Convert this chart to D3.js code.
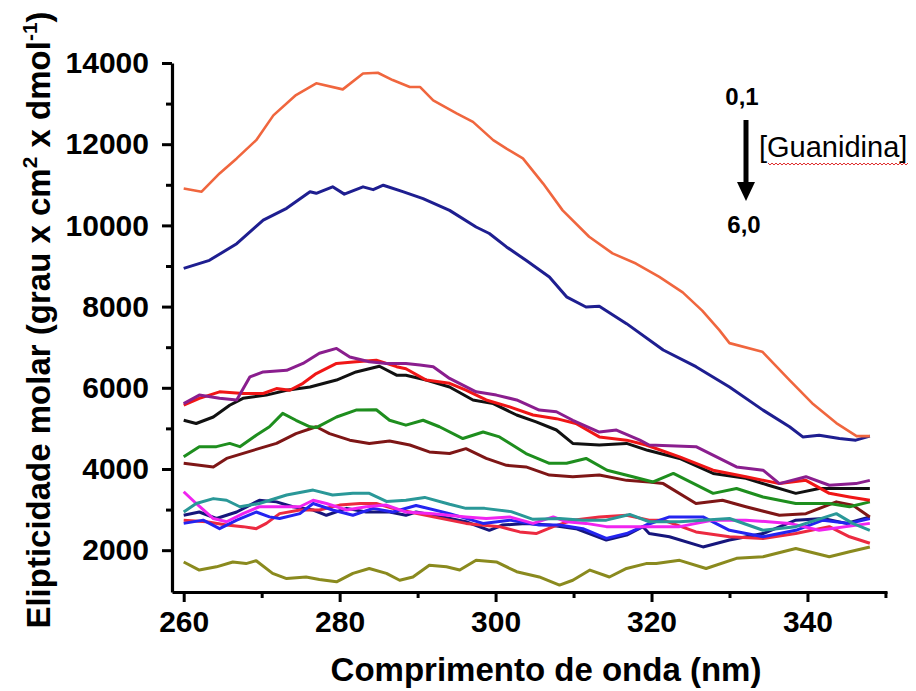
<!DOCTYPE html>
<html>
<head>
<meta charset="utf-8">
<script src="https://cdn.jsdelivr.net/npm/d3@7/dist/d3.min.js"></script>
<style>
  html, body { margin: 0; padding: 0; background: #fff; }
  svg { display: block; }
  text { font-family: "Liberation Sans", Arial, sans-serif; }
</style>
</head>
<body>
<svg id="chart" width="916" height="691"></svg>
<script>
// ---- data (wavelength nm, molar ellipticity) ----
const orange = [[260,10910],[262.3,10830],[264.6,11280],[266.8,11650],[269.3,12100],[271.5,12710],[274.4,13210],[277,13500],[280.4,13350],[283,13740],[284.9,13760],[286.8,13580],[289,13410],[290.3,13410],[292,13080],[295,12760],[297.1,12550],[299.7,12100],[301.4,11890],[303.5,11650],[306.1,11030],[308.6,10370],[312,9720],[315,9310],[318,9060],[321,8730],[324,8350],[326.5,7900],[328.7,7420],[330,7100],[334.2,6890],[337.7,6190],[340.6,5620],[343.7,5130],[346.3,4810],[348,4810]];
const navy = [[260,8940],[263.3,9140],[266.8,9550],[270.2,10130],[273.2,10420],[276.2,10830],[277,10790],[279.1,10950],[280.6,10770],[283,10950],[284.3,10880],[285.6,10990],[288.1,10830],[290.7,10660],[294.1,10370],[297.5,9960],[299.2,9800],[301.4,9470],[303.9,9140],[306.9,8730],[309.1,8240],[311.6,7990],[313.3,8010],[316.8,7580],[321.5,6930],[325.7,6520],[330,6020],[334.3,5450],[337.7,5040],[339.4,4790],[341.5,4830],[344.1,4750],[346.2,4710],[348,4810]];
const purple = [[260,5610],[262,5820],[264.6,5740],[266.8,5700],[268.5,6270],[270.2,6390],[273.2,6430],[275.3,6600],[277.4,6850],[279.6,6970],[281.3,6760],[283.8,6640],[286,6600],[288.5,6600],[290.3,6560],[292,6520],[294.1,6230],[297.5,5900],[300.1,5820],[302.7,5700],[305.6,5450],[307.8,5410],[309.9,5200],[313.3,4910],[315.5,4960],[318.5,4710],[319.7,4590],[325.7,4550],[330.9,4050],[334.3,3970],[336.4,3640],[339.8,3810],[342.8,3600],[346.2,3640],[348,3720]];
const red = [[260,5570],[262,5740],[264.6,5900],[267.6,5860],[270.2,5860],[271.9,5980],[273.6,5940],[275.3,6110],[277,6350],[279.6,6600],[282.1,6640],[284.7,6680],[287.3,6520],[288.5,6470],[291.1,6190],[294.1,6110],[296.2,5940],[298.8,5700],[301.8,5530],[304.8,5330],[307.8,5240],[310.3,5120],[313.3,4790],[316.8,4710],[319.3,4590],[323.6,4300],[327.9,3970],[332.1,3810],[336.4,3640],[339.8,3720],[342.8,3400],[345.4,3310],[348,3230]];
const black = [[260,5200],[261.6,5120],[263.8,5280],[265.9,5570],[267.6,5740],[270.6,5820],[273.2,5940],[276.2,6020],[279.6,6190],[282.1,6390],[285.1,6530],[287.3,6310],[288.5,6310],[291.1,6190],[294.1,6020],[297.1,5700],[299.7,5610],[302.7,5330],[305.2,5160],[307.8,4960],[309.9,4630],[313.3,4590],[316.8,4630],[319.5,4460],[323.6,4260],[327.9,3890],[332.1,3770],[335,3600],[338.5,3400],[341.5,3520],[348,3520]];
const green = [[260,4300],[262,4550],[264.2,4550],[265.9,4630],[267.2,4550],[269.3,4830],[271,5040],[272.7,5370],[274.4,5200],[276.2,5040],[277,5020],[279.6,5280],[282.1,5450],[284.7,5460],[286.4,5200],[288.5,5080],[290.7,5200],[292.8,5040],[295.8,4750],[298.4,4910],[300.5,4790],[303.9,4380],[306.9,4140],[309.1,4140],[311.6,4260],[314.3,3970],[317.6,3810],[320.2,3680],[322.8,3890],[327.9,3400],[330.9,3520],[334.3,3310],[338.5,3150],[342.8,3150],[345.4,3070],[348,3190]];
const maroon = [[260,4140],[263.8,4050],[265.5,4260],[268.9,4460],[271.9,4630],[274.4,4870],[277,5040],[278.7,4870],[281.3,4710],[283.8,4630],[286.4,4690],[289,4590],[291.5,4420],[294.1,4380],[296.2,4500],[298.8,4260],[301.4,4090],[303.9,4050],[306.9,3850],[309.9,3810],[313.3,3850],[316.8,3720],[319.7,3680],[321.5,3640],[325.7,3150],[329.1,3230],[332.1,3070],[336.4,2860],[339.8,2900],[343.7,3190],[345.8,3110],[348,2820]];
const teal = [[260,2940],[261.6,3150],[263.8,3270],[265.5,3230],[267.2,3070],[269.7,3150],[273.2,3360],[276.6,3480],[279.1,3360],[281.7,3400],[283.8,3400],[286,3200],[288.5,3230],[290.9,3300],[294.1,3130],[296.2,3030],[298.6,3030],[302,2950],[304.8,2760],[308.2,2780],[311.2,2740],[314.2,2740],[317.2,2880],[319.7,2700],[323.6,2700],[330,2780],[334.3,2490],[338.5,2580],[343.7,2900],[345.8,2660],[348,2490]];
const magenta = [[260,3440],[261.6,3150],[263.8,2780],[265.5,2700],[267.6,2900],[269.7,3070],[272.3,3070],[274.9,3070],[276.6,3230],[278.3,3150],[280.9,2990],[283.4,3070],[286,3110],[288.5,2940],[292,2900],[296.2,2820],[298.8,2780],[301.8,2820],[304.8,2660],[307.4,2820],[309.1,2700],[311.6,2660],[314.2,2580],[317.6,2580],[323.6,2580],[327.9,2740],[332.1,2740],[337.7,2660],[341.5,2490],[348,2660]];
const blue = [[260,2660],[262.5,2740],[264.6,2530],[266.8,2740],[269.3,2940],[271,2820],[272.3,2780],[274.9,2900],[276.6,3150],[279.1,2990],[281.7,2860],[284.3,3030],[286.8,2940],[289.8,3100],[294.1,2900],[298.4,2660],[301.8,2740],[305.6,2620],[308.2,2620],[311.2,2530],[314.2,2290],[316.8,2410],[319.3,2620],[322.3,2820],[326.6,2820],[330,2490],[334.3,2330],[338.5,2490],[342,2740],[345.4,2660],[348,2780]];
const crimson = [[260,2740],[262.9,2700],[265.5,2620],[267.6,2580],[269.3,2530],[270.6,2660],[272.3,2900],[274.9,2990],[277.4,2990],[280,3110],[282.6,3150],[284.7,3150],[286.8,3030],[289,2940],[292,2820],[296.2,2660],[300.5,2580],[303.1,2450],[305.2,2410],[307.4,2580],[309.9,2740],[313.3,2820],[316.8,2860],[319.7,2740],[321.5,2740],[325.7,2450],[330,2330],[334.3,2290],[338.5,2410],[342.8,2580],[345.4,2330],[348,2170]];
const darknavy = [[260,2860],[262,2940],[264.2,2780],[266.8,2940],[269.7,3230],[271.9,3190],[274,3070],[276.6,2990],[278.3,2860],[280.9,3030],[283.4,2940],[286.4,2940],[288.5,2860],[289.8,2940],[293.2,2820],[296.2,2700],[299.2,2490],[300.9,2620],[303.9,2660],[306.9,2620],[310.3,2530],[314.2,2250],[316.8,2370],[318.9,2580],[319.7,2410],[322.3,2330],[326.6,2080],[330,2250],[334.3,2410],[338.5,2740],[342,2780],[345,2660],[348,2820]];
const olive = [[260,1710],[262,1510],[264.2,1590],[266.3,1710],[268,1670],[269.3,1740],[271.4,1430],[273.2,1300],[275.7,1340],[277.4,1280],[279.6,1220],[281.7,1430],[283.8,1550],[286,1430],[287.7,1260],[289.4,1340],[291.5,1630],[293.7,1590],[295.4,1510],[297.5,1750],[300.1,1710],[302.7,1470],[305.6,1340],[308.2,1140],[309.9,1260],[312.1,1510],[314.6,1340],[316.8,1550],[319.3,1670],[320.6,1670],[323.6,1750],[327,1550],[330.9,1800],[334.3,1840],[338.5,2040],[342.8,1840],[345.4,1960],[348,2080]];

// drawing order (bottom to top) and matching colours
const seriesList = [olive, darknavy, crimson, blue, magenta, teal, maroon, green, black, red, purple, navy, orange];
const seriesColors = ["#8a8a1e", "#16167c", "#ec2a40", "#2424f0", "#f024f0", "#2a9898", "#7e1616", "#1e8e1e", "#111111", "#f01616", "#8a1e8e", "#1e1e90", "#f0663e"];

const yMajor = [2000, 4000, 6000, 8000, 10000, 12000, 14000];
const yMinor = [3000, 5000, 7000, 9000, 11000, 13000];
const xMajor = [260, 280, 300, 320, 340];
const xMinor = [270, 290, 310, 330, 350];

// ---- drawing ----
const svg = d3.select("#chart");
const x = d3.scaleLinear().domain([258.5, 350.2]).range([172, 887]);
const y = d3.scaleLinear().domain([970, 14000]).range([592, 63]);

const line = d3.line().x(d => x(d[0])).y(d => y(d[1]));
svg.append("g").selectAll("path").data(seriesList).join("path")
  .attr("d", line)
  .attr("fill", "none")
  .attr("stroke", (d, i) => seriesColors[i])
  .attr("stroke-width", (d, i) => i === seriesList.length - 1 ? 2.6 : 3)
  .attr("stroke-linejoin", "round");

// axes
function styleAxis(g) {
  g.selectAll("path.domain").attr("stroke", "#000").attr("stroke-width", 3.2);
  g.selectAll(".tick line").attr("stroke", "#000").attr("stroke-width", 3);
  g.selectAll(".tick text").attr("fill", "#000")
    .style("font-family", '"Liberation Sans", Arial, sans-serif')
    .style("font-size", "30px").style("font-weight", "bold");
}

const yAx = svg.append("g").attr("transform", "translate(172,0)")
  .call(d3.axisLeft(y).tickValues(yMajor).tickSize(10).tickSizeOuter(0).tickPadding(13).tickFormat(d3.format("d")));
styleAxis(yAx);
const yAxMin = svg.append("g").attr("transform", "translate(172,0)")
  .call(d3.axisLeft(y).tickValues(yMinor).tickSize(6).tickSizeOuter(0).tickFormat(""));
styleAxis(yAxMin);
yAxMin.select("path.domain").remove();

const xAx = svg.append("g").attr("transform", "translate(0,592)")
  .call(d3.axisBottom(x).tickValues(xMajor).tickSize(10).tickSizeOuter(0).tickPadding(9).tickFormat(d3.format("d")));
styleAxis(xAx);
const xAxMin = svg.append("g").attr("transform", "translate(0,592)")
  .call(d3.axisBottom(x).tickValues(xMinor).tickSize(6).tickSizeOuter(0).tickFormat(""));
styleAxis(xAxMin);
xAxMin.select("path.domain").remove();

// axis titles
svg.append("text")
  .attr("x", 546).attr("y", 681)
  .attr("text-anchor", "middle")
  .style("font-size", "33px").style("font-weight", "bold")
  .text("Comprimento de onda (nm)");

const yt = svg.append("text")
  .attr("transform", "translate(50,320) rotate(-90)")
  .attr("text-anchor", "middle")
  .style("font-size", "33px").style("font-weight", "bold");
yt.append("tspan").text("Elipticidade molar (grau x cm");
yt.append("tspan").attr("dy", -13).style("font-size", "21px").text("2");
yt.append("tspan").attr("dy", 13).text(" x dmol");
yt.append("tspan").attr("dy", -13).style("font-size", "21px").text("-1");
yt.append("tspan").attr("dy", 13).text(")");

// annotation
svg.append("text").attr("x", 742).attr("y", 105).attr("text-anchor", "middle")
  .style("font-size", "24px").style("font-weight", "bold").text("0,1");
svg.append("text").attr("x", 744).attr("y", 233).attr("text-anchor", "middle")
  .style("font-size", "24px").style("font-weight", "bold").text("6,0");
svg.append("line").attr("x1", 746).attr("x2", 746).attr("y1", 120).attr("y2", 186)
  .attr("stroke", "#000").attr("stroke-width", 5);
svg.append("path").attr("d", "M737,182 L755,182 L746,201 Z").attr("fill", "#000");
svg.append("text").attr("x", 759).attr("y", 157)
  .style("font-size", "29px").text("[Guanidina]");
// red wavy spell-check underline
let wave = "M768,163";
for (let xx = 768; xx < 908; xx += 4) { wave += ` L${xx + 2},165 L${xx + 4},163`; }
svg.append("path").attr("d", wave).attr("fill", "none").attr("stroke", "#e03030").attr("stroke-width", 1);
</script>
</body>
</html>
